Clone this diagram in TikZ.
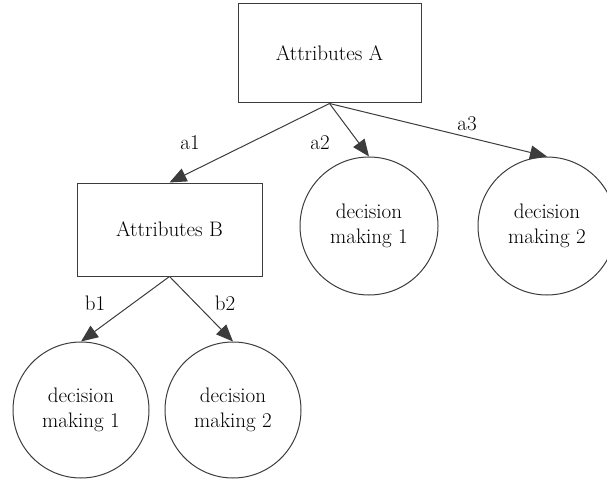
\documentclass[tikz,border=0pt]{standalone}
\usetikzlibrary{arrows.meta}
\definecolor{edgec}{HTML}{3C3C3C}
\begin{document}
\begin{tikzpicture}[x=1pt,y=-1pt,
  every node/.style={font=\fontsize{21}{25}\selectfont, text=black},
  boxn/.style={draw=edgec, line width=1pt, rectangle, inner sep=0pt},
  circn/.style={draw=edgec, line width=1pt, circle, inner sep=0pt, align=center},
  edge/.style={draw=edgec, line width=1pt, -{Triangle[length=17pt,width=14pt]}},
  lab/.style={inner sep=0pt}]
\useasboundingbox (0,0) rectangle (607,481);
\clip (0,0) rectangle (607,481);
\node[boxn, minimum width=183pt, minimum height=99pt] (A) at (329.5,53.5) {Attributes A};
\node[boxn, minimum width=185pt, minimum height=93pt] (B) at (169.5,229.5) {Attributes B};
\node[circn, minimum size=138pt] (c1) at (369,226) {decision\\making 1};
\node[circn, minimum size=138pt] (c2) at (547,226) {decision\\making 2};
\node[circn, minimum size=136pt] (d1) at (81,410) {decision\\making 1};
\node[circn, minimum size=136pt] (d2) at (233,410) {decision\\making 2};
\draw[edge] (A.south) -- (B.north);
\draw[edge] (A.south) -- (c1.north);
\draw[edge] (A.south) -- (c2.north);
\draw[edge] (B.south) -- (d1.north);
\draw[edge] (B.south) -- (d2.north);
\node[lab] (la1) at (190,143) {a1};
\node[lab] (la2) at (320,143) {a2};
\node[lab] (la3) at (467,124) {a3};
\node[lab] (lb1) at (95,303) {b1};
\node[lab] (lb2) at (225,303) {b2};
\end{tikzpicture}
\end{document}
